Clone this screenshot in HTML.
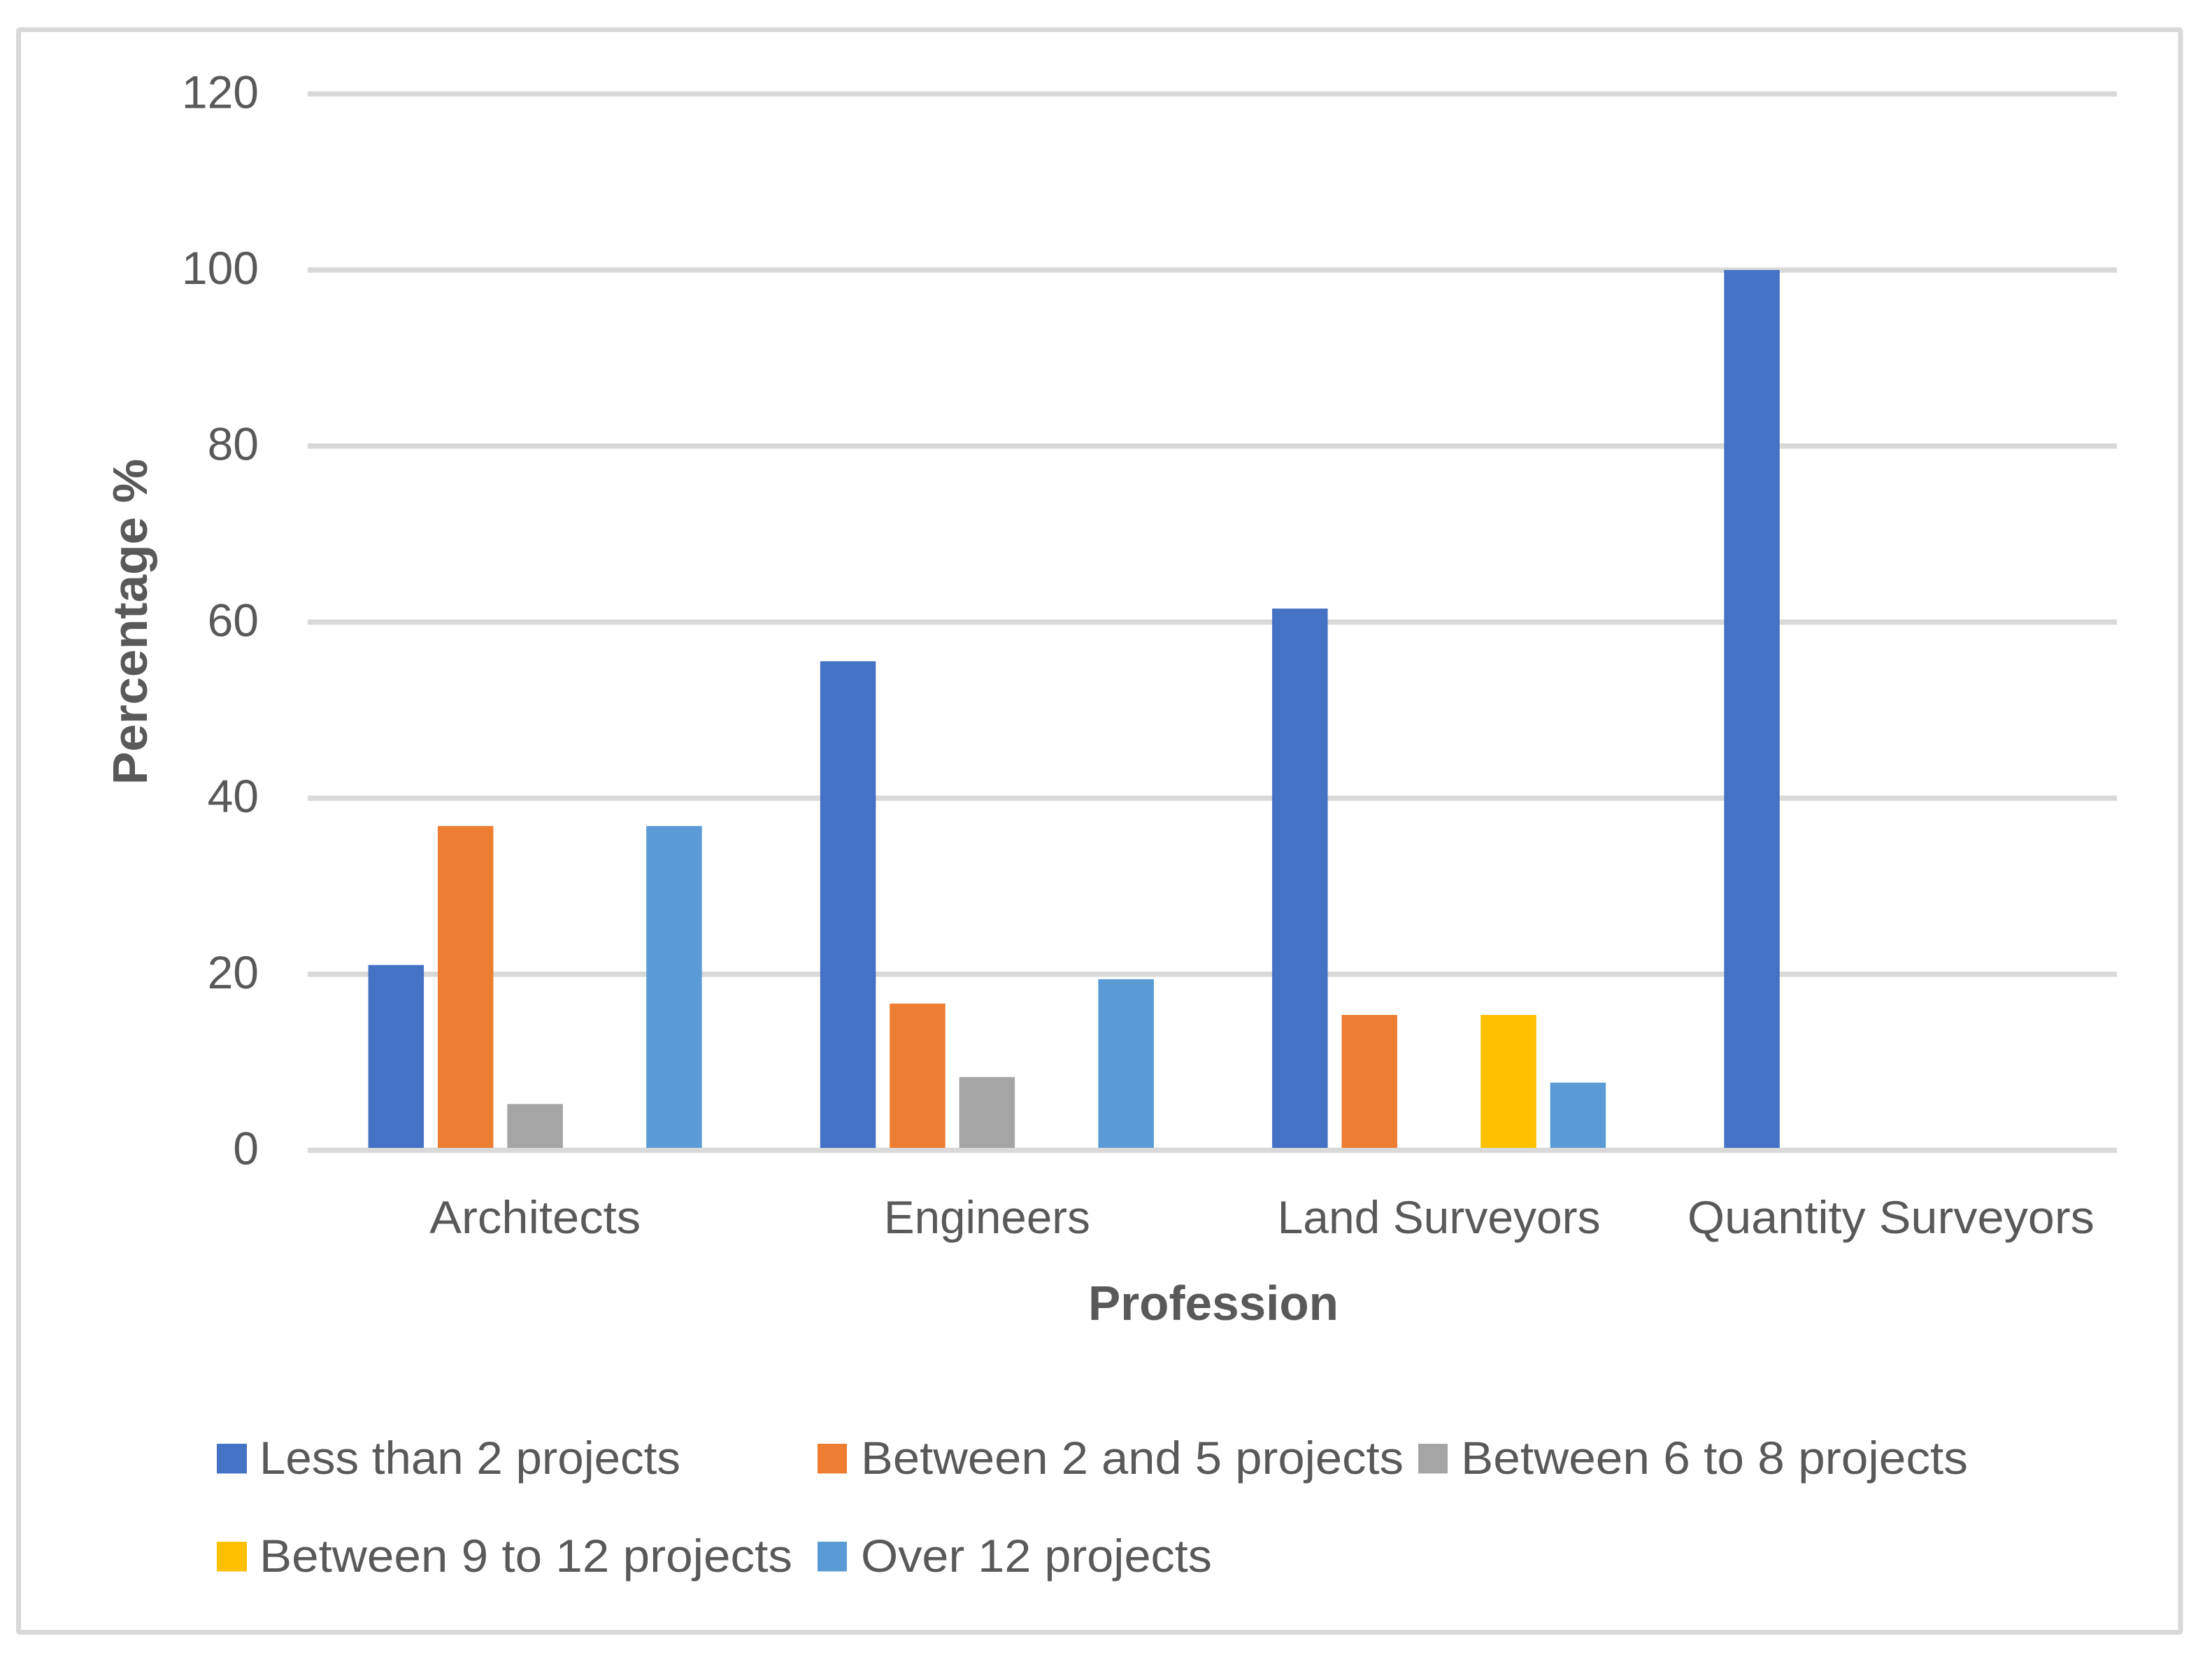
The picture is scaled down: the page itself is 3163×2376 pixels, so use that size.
<!DOCTYPE html>
<html lang="en">
<head>
<meta charset="utf-8">
<title>Percentage of projects by profession</title>
<style>
html,body{margin:0;padding:0;background:#fff;}
svg{display:block;}
text{font-family:"Liberation Sans",sans-serif;fill:#595959;}
</style>
</head>
<body>
<svg id="chart" xmlns="http://www.w3.org/2000/svg" width="3163" height="2376" viewBox="0 0 3163 2376">
  <rect x="0" y="0" width="3163" height="2376" fill="#ffffff"/>
  <rect x="26.5" y="42.5" width="3091.5" height="2291" rx="2" fill="#ffffff" stroke="#d9d9d9" stroke-width="7"/>
  <g id="grid"></g>
  <g id="bars"></g>
  <g id="axis"></g>
  <g id="yticks"></g>
  <g id="xticks"></g>
  <text transform="translate(210,889) rotate(-90)" text-anchor="middle" font-size="70" font-weight="700" textLength="466" lengthAdjust="spacingAndGlyphs">Percentage %</text>
  <text x="1735" y="1887" text-anchor="middle" font-size="70" font-weight="700" textLength="358" lengthAdjust="spacingAndGlyphs">Profession</text>
  <g id="legend"></g>
</svg>
<script>
const categories = ["Architects", "Engineers", "Land Surveyors", "Quantity Surveyors"];
const seriesNames = ["Less than 2 projects", "Between 2 and 5 projects", "Between 6 to 8 projects", "Between 9 to 12 projects", "Over 12 projects"];
const lessThan2 = [21.05, 55.56, 61.54, 100];
const between2And5 = [36.84, 16.67, 15.38, 0];
const between6To8 = [5.26, 8.33, 0, 0];
const between9To12 = [0, 0, 15.38, 0];
const over12 = [36.84, 19.44, 7.69, 0];
const tickLabels = [0, 20, 40, 60, 80, 100, 120];

const seriesValues = [lessThan2, between2And5, between6To8, between9To12, over12];
const seriesColors = ["#4472C4", "#ED7D31", "#A5A5A5", "#FFC000", "#5B9BD5"];

const NS = "http://www.w3.org/2000/svg";
const plotLeft = 440, plotRight = 3027, zeroY = 1644.5, unitPx = 12.585;
const bandLeft = 442;
const bandWidth = (plotRight - bandLeft) / categories.length;
const barWidth = 79.5, barStep = 99.4;
const axisBottomOfBars = 1641;

function yScale(v) { return zeroY - v * unitPx; }
function bandCenter(i) { return bandLeft + bandWidth * (i + 0.5); }
function barLeft(c, s) {
  const groupWidth = barStep * (seriesValues.length - 1) + barWidth;
  return bandCenter(c) - groupWidth / 2 + barStep * s;
}
function make(tag, attrs, parent) {
  const el = document.createElementNS(NS, tag);
  Object.keys(attrs).forEach(function (k) { el.setAttribute(k, attrs[k]); });
  parent.appendChild(el);
  return el;
}

const gridGroup = document.getElementById("grid");
const yTickGroup = document.getElementById("yticks");
tickLabels.forEach(function (t) {
  const line = make("rect", { x: plotLeft, y: yScale(t) - 3.75, width: plotRight - plotLeft, height: 7.5, fill: "#d9d9d9" }, gridGroup);
  
  
  const label = make("text", { x: 370, y: yScale(t) + 20, "text-anchor": "end", "font-size": 66 }, yTickGroup);
  
  
  label.textContent = String(t);
});

const barGroup = document.getElementById("bars");
seriesValues.forEach(function (vals, s) {
  vals.forEach(function (v, c) {
    if (v <= 0) return;
    const top = yScale(v);
    const bar = make("rect", { x: barLeft(c, s), y: top, width: barWidth, height: axisBottomOfBars - top, fill: seriesColors[s] }, barGroup);
    
    
  });
});

const xTickGroup = document.getElementById("xticks");
const categoryWidths = [302, 295, 462, 582];
categories.forEach(function (name, i) {
  const label = make("text", { x: bandCenter(i), y: 1763, "text-anchor": "middle", "font-size": 66, textLength: categoryWidths[i], lengthAdjust: "spacingAndGlyphs" }, xTickGroup);
  
  
  label.textContent = name;
});

const legendGroup = document.getElementById("legend");
const legendSlots = [
  { sx: 310, sy: 2064, sw: 43, tx: 371, tw: 602, by: 2107 },
  { sx: 1169, sy: 2064, sw: 42, tx: 1231, tw: 776, by: 2107 },
  { sx: 2028, sy: 2064, sw: 42, tx: 2089, tw: 725, by: 2107 },
  { sx: 310, sy: 2204, sw: 43, tx: 371, tw: 762, by: 2247 },
  { sx: 1169, sy: 2204, sw: 42, tx: 1231, tw: 502, by: 2247 }
];
seriesNames.forEach(function (name, i) {
  const slot = legendSlots[i];
  const entry = make("g", {}, legendGroup);
  
  
  const swatch = make("rect", { x: slot.sx, y: slot.sy, width: slot.sw, height: 42.5, fill: seriesColors[i] }, entry);
  
  
  const label = make("text", { x: slot.tx, y: slot.by, "font-size": 66, textLength: slot.tw, lengthAdjust: "spacingAndGlyphs" }, entry);
  
  
  label.textContent = name;
});

const axisGroup = document.getElementById("axis");
const baseline = make("rect", { x: plotLeft, y: yScale(0) - 3.5, width: plotRight - plotLeft, height: 7, fill: "#d9d9d9" }, axisGroup);


</script>
</body>
</html>
